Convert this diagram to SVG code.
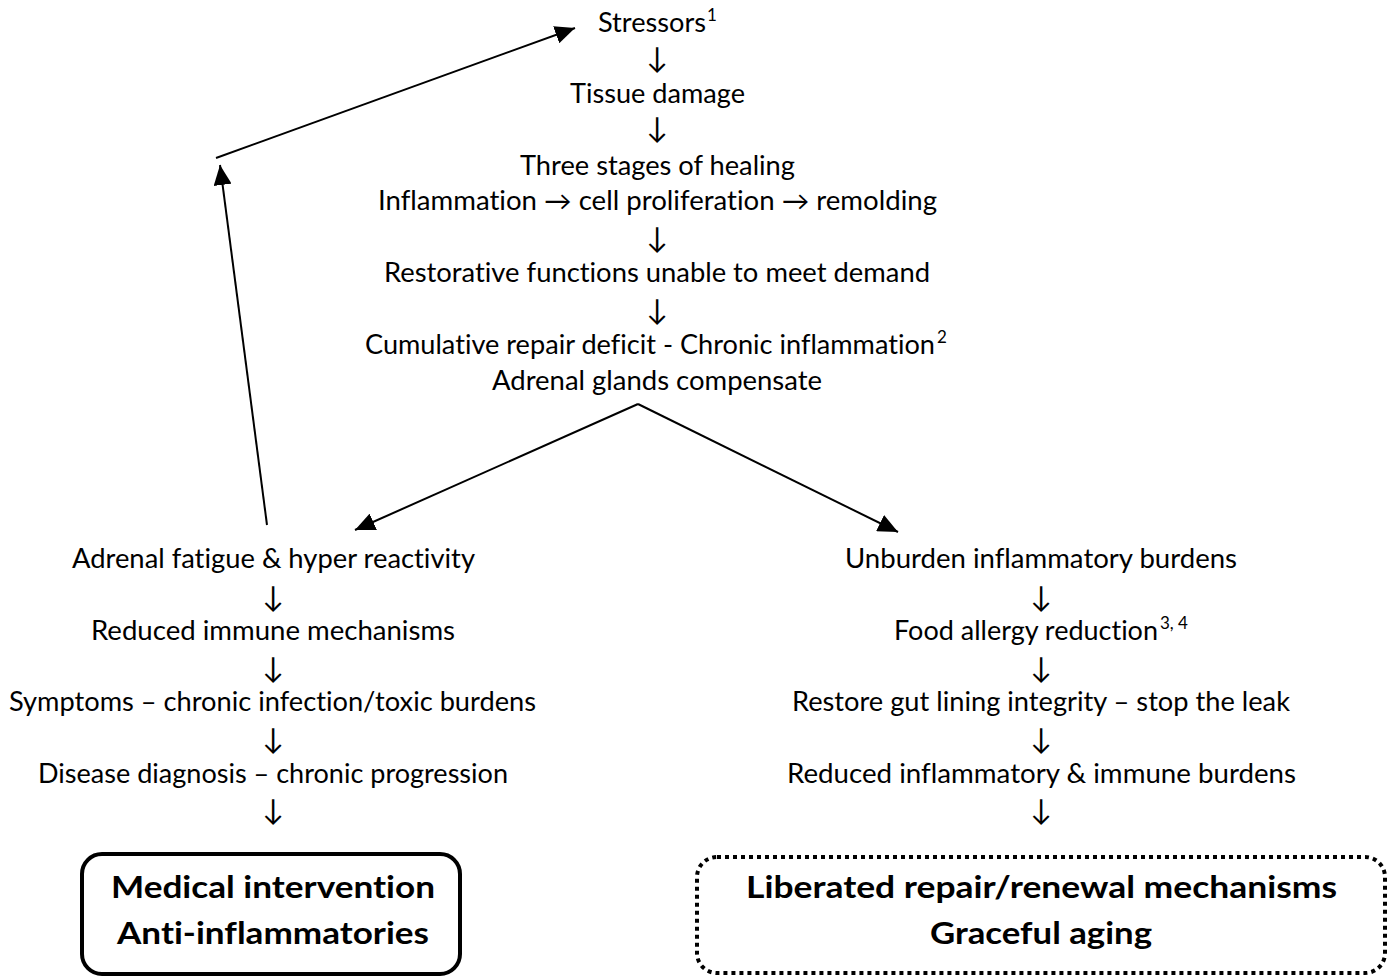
<svg xmlns="http://www.w3.org/2000/svg" width="1391" height="978" viewBox="0 0 1391 978">
<style>
.t{font-family:Lato,"Liberation Sans",sans-serif;font-size:26px;fill:#000;font-variant-ligatures:none}
.s{font-family:Lato,"Liberation Sans",sans-serif;font-size:17px;fill:#000}
.a{font-family:Lato,"DejaVu Sans",sans-serif;font-size:29px;fill:#000;text-anchor:middle}
.b{font-family:Lato,"Liberation Sans",sans-serif;font-size:31px;font-weight:bold;fill:#000;font-variant-ligatures:none}
.c{stroke:#000;stroke-width:2;fill:none}
</style>
<defs>
<marker id="ah" markerUnits="userSpaceOnUse" markerWidth="20" markerHeight="18" refX="20" refY="9" orient="auto">
<path d="M0,0 L20,9 L0,18 z" fill="#000"/>
</marker>
</defs>
<rect width="1391" height="978" fill="#fff"/>
<g id="connectors">
<line class="c" x1="638" y1="404" x2="355" y2="530" marker-end="url(#ah)"/>
<line class="c" x1="638" y1="404" x2="898" y2="532" marker-end="url(#ah)"/>
<line class="c" x1="267" y1="525" x2="220" y2="165" marker-end="url(#ah)"/>
<line class="c" x1="216" y1="158" x2="575" y2="28" marker-end="url(#ah)"/>
</g>
<g id="stressors"><text class="t" x="598" y="32" textLength="108" lengthAdjust="spacingAndGlyphs">Stressors</text><text class="s" x="707" y="21">1</text></g>
<text class="a" x="657" y="68">↓</text>
<g id="tissue"><text class="t" x="570" y="103" textLength="175" lengthAdjust="spacingAndGlyphs">Tissue damage</text></g>
<text class="a" x="657" y="138">↓</text>
<g id="healing">
<text class="t" x="520" y="175" textLength="275" lengthAdjust="spacingAndGlyphs">Three stages of healing</text>
<text class="t" x="378" y="210" textLength="559" lengthAdjust="spacingAndGlyphs">Inflammation → cell proliferation → remolding</text>
</g>
<text class="a" x="657" y="248">↓</text>
<g id="restorative"><text class="t" x="384" y="282" textLength="546" lengthAdjust="spacingAndGlyphs">Restorative functions unable to meet demand</text></g>
<text class="a" x="657" y="320">↓</text>
<g id="cumulative">
<text class="t" x="365" y="354" textLength="570" lengthAdjust="spacingAndGlyphs">Cumulative repair deficit - Chronic inflammation</text><text class="s" x="937" y="343">2</text>
<text class="t" x="492" y="390" textLength="330" lengthAdjust="spacingAndGlyphs">Adrenal glands compensate</text>
</g>
<g id="adrenal-fatigue"><text class="t" x="72" y="568" textLength="403" lengthAdjust="spacingAndGlyphs">Adrenal fatigue &amp; hyper reactivity</text></g>
<text class="a" x="273" y="607">↓</text>
<g id="reduced-immune"><text class="t" x="91" y="640" textLength="364" lengthAdjust="spacingAndGlyphs">Reduced immune mechanisms</text></g>
<text class="a" x="273" y="678">↓</text>
<g id="symptoms"><text class="t" x="9" y="711" textLength="527" lengthAdjust="spacingAndGlyphs">Symptoms – chronic infection/toxic burdens</text></g>
<text class="a" x="273" y="749">↓</text>
<g id="disease"><text class="t" x="38" y="783" textLength="470" lengthAdjust="spacingAndGlyphs">Disease diagnosis – chronic progression</text></g>
<text class="a" x="273" y="820">↓</text>
<g id="unburden"><text class="t" x="845" y="568" textLength="392" lengthAdjust="spacingAndGlyphs">Unburden inflammatory burdens</text></g>
<text class="a" x="1041" y="607">↓</text>
<g id="food"><text class="t" x="894" y="640" textLength="264" lengthAdjust="spacingAndGlyphs">Food allergy reduction</text><text class="s" x="1160" y="629">3, 4</text></g>
<text class="a" x="1041" y="678">↓</text>
<g id="gut"><text class="t" x="792" y="711" textLength="498" lengthAdjust="spacingAndGlyphs">Restore gut lining integrity – stop the leak</text></g>
<text class="a" x="1041" y="749">↓</text>
<g id="reduced-burdens"><text class="t" x="787" y="783" textLength="509" lengthAdjust="spacingAndGlyphs">Reduced inflammatory &amp; immune burdens</text></g>
<text class="a" x="1041" y="820">↓</text>
<g id="medical">
<rect x="82" y="854" width="378" height="120" rx="20" fill="none" stroke="#000" stroke-width="4"/>
<text class="b" x="111" y="898" textLength="324" lengthAdjust="spacingAndGlyphs">Medical intervention</text>
<text class="b" x="117" y="944" textLength="312" lengthAdjust="spacingAndGlyphs">Anti-inflammatories</text>
</g>
<g id="liberated">
<rect x="697" y="857" width="688" height="116" rx="20" fill="none" stroke="#000" stroke-width="4" stroke-dasharray="4 4"/>
<text class="b" x="746" y="898" textLength="591" lengthAdjust="spacingAndGlyphs">Liberated repair/renewal mechanisms</text>
<text class="b" x="930" y="944" textLength="222" lengthAdjust="spacingAndGlyphs">Graceful aging</text>
</g>
</svg>
